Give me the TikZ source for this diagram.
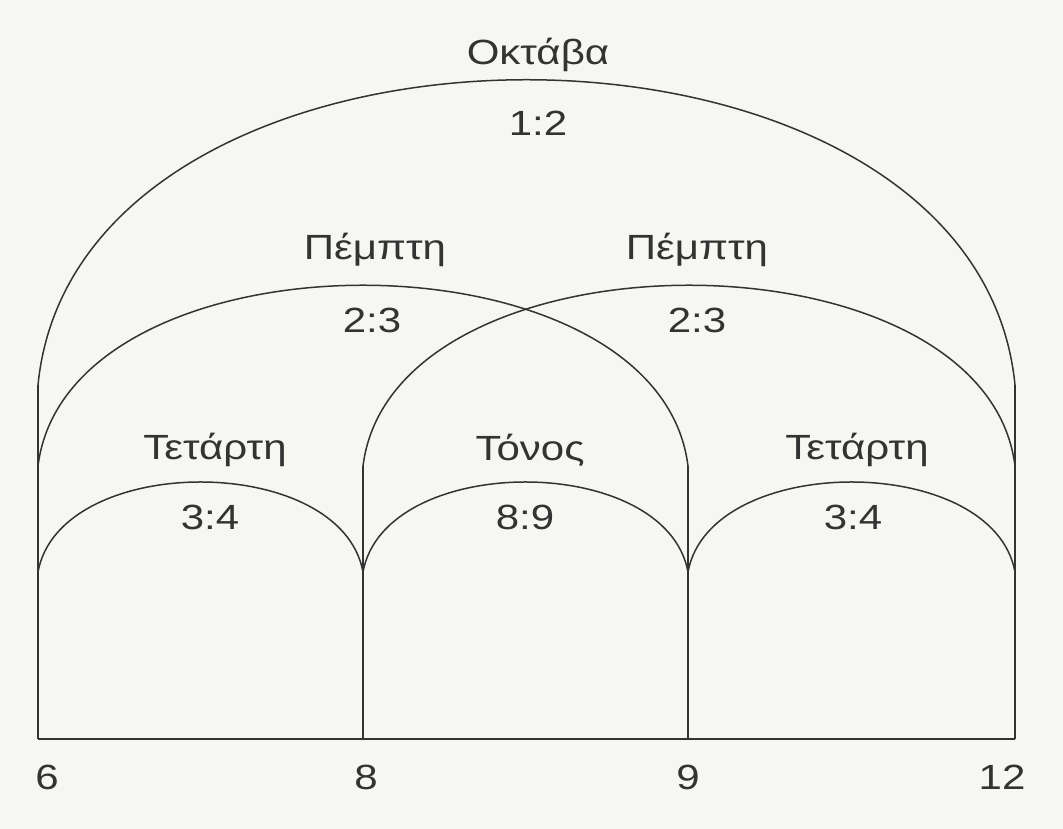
\documentclass[tikz,border=0pt]{standalone}
\usepackage{fontspec}
\setmainfont{Liberation Sans}[FakeStretch=1.2]
\definecolor{ink}{HTML}{333333}
\definecolor{paper}{HTML}{F6F6F3}
\begin{document}
\begin{tikzpicture}[x=1pt,y=1pt,
  line/.style={draw=ink,line width=1.5pt},
  lbl/.style={text=ink,font=\fontsize{35}{40}\selectfont,inner sep=0pt,anchor=center}]
\fill[paper] (0,0) rectangle (1063,829);
\useasboundingbox (0,0) rectangle (1063,829);
% base points
\coordinate (b6) at (38,90);
\coordinate (b8) at (363,90);
\coordinate (b9) at (688,90);
\coordinate (b12) at (1015,90);
% tops of verticals / arch ends
\coordinate (o6) at (38,444);
\coordinate (o12) at (1015,444);
\coordinate (p6) at (38,363);
\coordinate (p8) at (363,363);
\coordinate (p9) at (688,363);
\coordinate (p12) at (1015,363);
\coordinate (t6) at (38,257);
\coordinate (t8) at (363,257);
\coordinate (t9) at (688,257);
\coordinate (t12) at (1015,257);
% baseline and verticals
\draw[line] (b6) -- (b12);
\draw[line] (b6) -- (o6);
\draw[line] (b8) -- (p8);
\draw[line] (b9) -- (p9);
\draw[line] (b12) -- (o12);
% arches
\draw[line] (o6) .. controls +(40,407) and +(-40,407) .. (o12);
\draw[line] (p6) .. controls +(30,241) and +(-30,241) .. (p9);
\draw[line] (p8) .. controls +(30,241) and +(-30,241) .. (p12);
\draw[line] (t6) .. controls +(22,120) and +(-22,120) .. (t8);
\draw[line] (t8) .. controls +(22,120) and +(-22,120) .. (t9);
\draw[line] (t9) .. controls +(22,120) and +(-22,120) .. (t12);
% labels
\node[lbl] (lo) at (538,774) {Οκτάβα};
\node[lbl] (lor) at (538,706) {1:2};
\node[lbl] (lp1) at (375,579) {Πέμπτη};
\node[lbl] (lp1r) at (372,509) {2:3};
\node[lbl] (lp2) at (697,579) {Πέμπτη};
\node[lbl] (lp2r) at (697,509) {2:3};
\node[lbl] (lt1) at (215,379) {Τετάρτη};
\node[lbl] (lt1r) at (210,312) {3:4};
\node[lbl] (ltn) at (530,379) {Τόνος};
\node[lbl] (ltnr) at (525,312) {8:9};
\node[lbl] (lt2) at (857,379) {Τετάρτη};
\node[lbl] (lt2r) at (853,312) {3:4};
\node[lbl] (n6) at (47,52) {6};
\node[lbl] (n8) at (366,52) {8};
\node[lbl] (n9) at (688,52) {9};
\node[lbl] (n12) at (1002,52) {12};
\end{tikzpicture}
\end{document}
